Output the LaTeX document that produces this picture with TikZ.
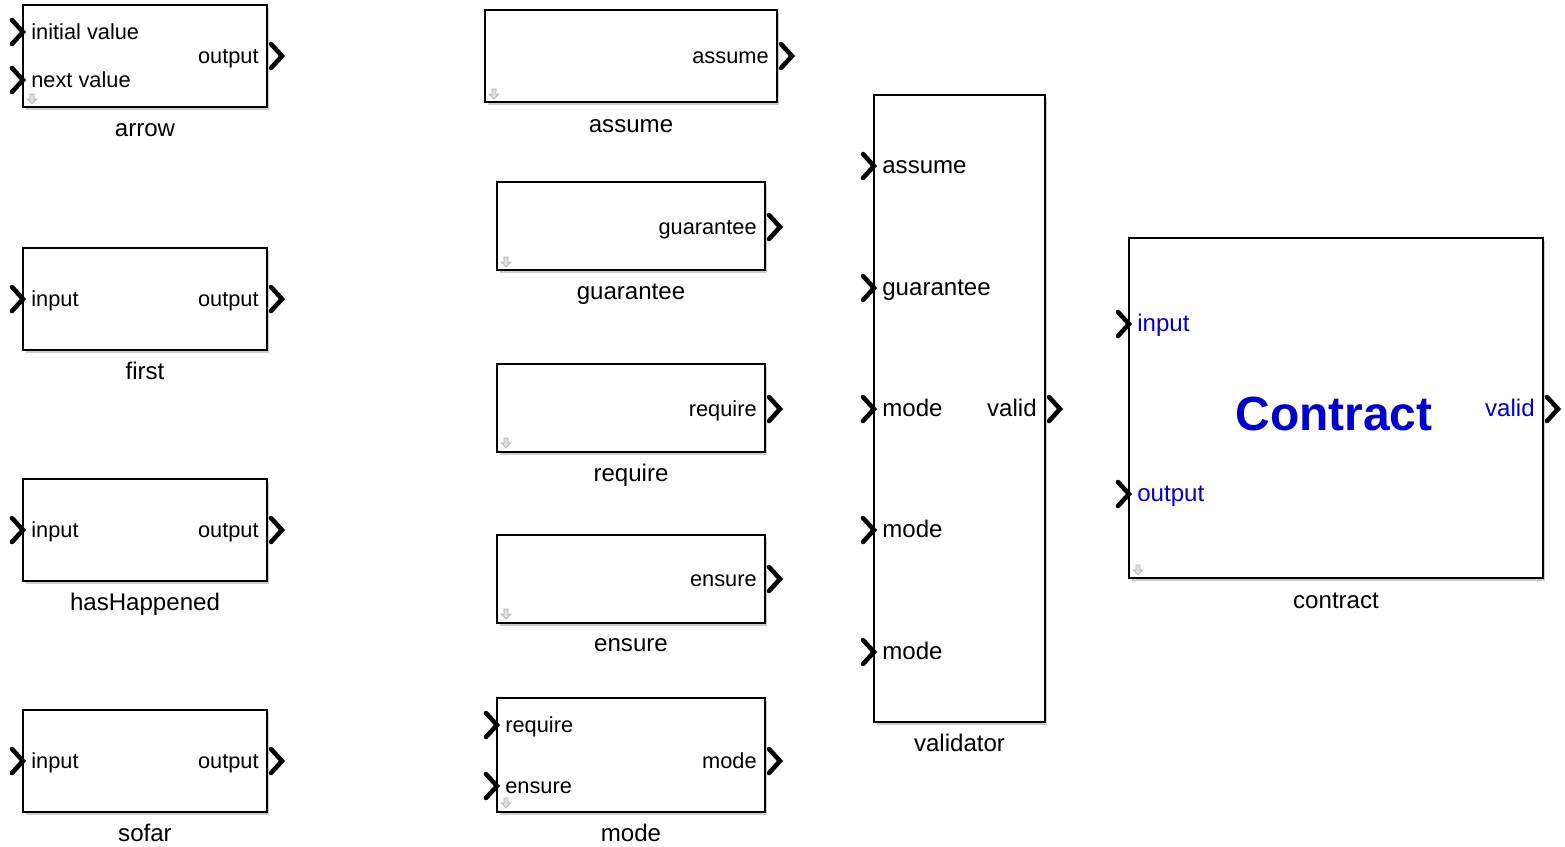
\documentclass[tikz,border=0pt]{standalone}
\usepackage{fontspec}
\setmainfont{Liberation Sans}
\usetikzlibrary{shadows}
\definecolor{slblue}{RGB}{0,0,204}

\begin{document}
\begin{tikzpicture}[x=0.02cm,y=-0.02cm,
  block node/.style={rectangle,draw,line width=0.9pt,fill=white,inner sep=0pt,outer sep=0pt,
    drop shadow={shadow xshift=0.05cm,shadow yshift=-0.06cm,opacity=0.4}},
  port label/.style={inner sep=0pt,font=\fontsize{12.4}{15}\selectfont},
  big port label/.style={inner sep=0pt,font=\fontsize{13.7}{16}\selectfont},
  block name/.style={inner sep=0pt,anchor=base,font=\fontsize{13.7}{16}\selectfont},
  port/.style={line width=2.6pt,line cap=round},
  sig icon/.pic={\draw[gray!60,fill=gray!25,line width=0.4pt] (-2,-5) -- (2,-5) -- (2,0) -- (4.5,0) -- (0,5) -- (-4.5,0) -- (-2,0) -- cycle;}]

  \useasboundingbox (0,0) rectangle (1565,846);

  \node[block node,minimum width=4.88cm,minimum height=2.04cm] (arrow) at (145,56) {};
  \node[block node,minimum width=4.88cm,minimum height=2.04cm] (first) at (145,299) {};
  \node[block node,minimum width=4.88cm,minimum height=2.04cm] (hasHappened) at (145,530) {};
  \node[block node,minimum width=4.88cm,minimum height=2.04cm] (sofar) at (145,761) {};
  \node[block node,minimum width=5.84cm,minimum height=1.84cm] (assume) at (631,56) {};
  \node[block node,minimum width=5.36cm,minimum height=1.76cm] (guarantee) at (631,226) {};
  \node[block node,minimum width=5.36cm,minimum height=1.76cm] (require) at (631,408) {};
  \node[block node,minimum width=5.36cm,minimum height=1.76cm] (ensure) at (631,579) {};
  \node[block node,minimum width=5.36cm,minimum height=2.28cm] (mode) at (631,755) {};
  \node[block node,minimum width=3.42cm,minimum height=12.54cm] (validator) at (959.5,408.5) {};
  \node[block node,minimum width=8.28cm,minimum height=6.8cm] (contract) at (1336,408) {};

  \node[port label,anchor=mid west] (arrow-in1) at (31,35) {initial value};
  \node[port label,anchor=mid west] (arrow-in2) at (31,83) {next value};
  \node[port label,anchor=mid east] (arrow-out) at (259,59) {output};
  \node[port label,anchor=mid west] (first-in) at (31,302) {input};
  \node[port label,anchor=mid east] (first-out) at (259,302) {output};
  \node[port label,anchor=mid west] (hasHappened-in) at (31,533) {input};
  \node[port label,anchor=mid east] (hasHappened-out) at (259,533) {output};
  \node[port label,anchor=mid west] (sofar-in) at (31,764) {input};
  \node[port label,anchor=mid east] (sofar-out) at (259,764) {output};
  \node[port label,anchor=mid east] (assume-out) at (769,59) {assume};
  \node[port label,anchor=mid east] (guarantee-out) at (757,230) {guarantee};
  \node[port label,anchor=mid east] (require-out) at (757,412) {require};
  \node[port label,anchor=mid east] (ensure-out) at (757,582) {ensure};
  \node[port label,anchor=mid west] (mode-in1) at (505,728) {require};
  \node[port label,anchor=mid west] (mode-in2) at (505,789) {ensure};
  \node[port label,anchor=mid east] (mode-out) at (757,764) {mode};
  \node[big port label,anchor=mid west] (validator-in1) at (882,169) {assume};
  \node[big port label,anchor=mid west] (validator-in2) at (882,291) {guarantee};
  \node[big port label,anchor=mid west] (validator-in3) at (882,412) {mode};
  \node[big port label,anchor=mid west] (validator-in4) at (882,533) {mode};
  \node[big port label,anchor=mid west] (validator-in5) at (882,655) {mode};
  \node[big port label,anchor=mid east] (validator-out) at (1037,412) {valid};
  \node[big port label,anchor=mid west,text=slblue] (contract-in1) at (1137,327) {input};
  \node[big port label,anchor=mid west,text=slblue] (contract-in2) at (1137,497) {output};
  \node[big port label,anchor=mid east,text=slblue] (contract-out) at (1535,412) {valid};
  \node[inner sep=0pt,text=slblue,font=\fontsize{27.3}{30}\selectfont\bfseries] (contract-title) at (1334,414) {Contract};

  \node[block name] (arrow-name) at (145,136) {arrow};
  \node[block name] (first-name) at (145,379) {first};
  \node[block name] (hasHappened-name) at (145,610) {hasHappened};
  \node[block name] (sofar-name) at (145,841) {sofar};
  \node[block name] (assume-name) at (631,132) {assume};
  \node[block name] (guarantee-name) at (631,299) {guarantee};
  \node[block name] (require-name) at (631,481) {require};
  \node[block name] (ensure-name) at (631,651) {ensure};
  \node[block name] (mode-name) at (631,841) {mode};
  \node[block name] (validator-name) at (959.5,751) {validator};
  \node[block name] (contract-name) at (1336,608) {contract};

  \foreach \x/\y in {23/32,23/80,23/299,23/530,23/761,497/725,497/786,
    874/166,874/288,874/409,874/530,874/652,1129/324,1129/494,
    282/56,282/299,282/530,282/761,792/56,780/227,780/409,780/579,780/761,
    1060/409,1558/409}
    \draw[port] (\x-11,\y-12) -- (\x,\y) -- (\x-11,\y+12);

  \foreach \x/\y in {32/99,494/94,506/262,506/443,506/614,506/803,1138/570}
    \pic at (\x,\y) {sig icon};
\end{tikzpicture}
\end{document}
